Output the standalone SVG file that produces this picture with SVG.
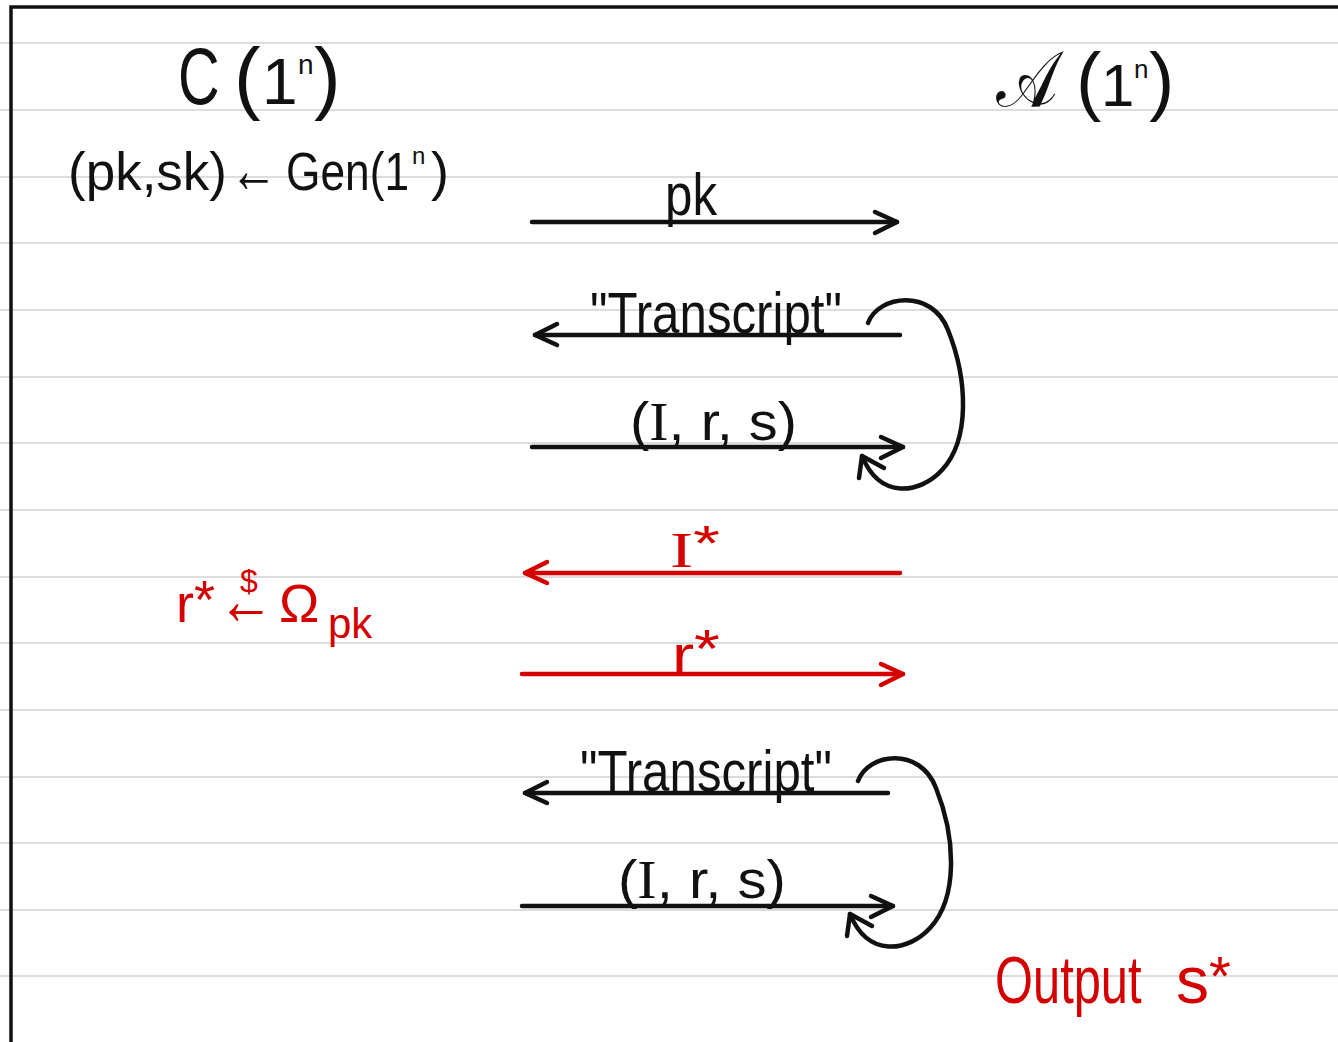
<svg xmlns="http://www.w3.org/2000/svg" width="1338" height="1042" viewBox="0 0 1338 1042">
<style>
.rule{stroke:#dcdcdc;stroke-width:2}
.hw{font-family:"Liberation Sans","DejaVu Sans",sans-serif;fill:#111}
.sf{font-family:"Liberation Serif","DejaVu Serif",serif}
.red{fill:#d40000}
.ln{fill:none;stroke:#111;stroke-width:4.5;stroke-linecap:round;stroke-linejoin:round}
.lr{fill:none;stroke:#d40000;stroke-width:4.5;stroke-linecap:round;stroke-linejoin:round}
</style>
<defs>
<marker id="ahB" viewBox="-26 -15 30 30" markerWidth="30" markerHeight="30" refX="0" refY="0" orient="auto" markerUnits="userSpaceOnUse">
<path d="M-22,-10 L0,0 L-22,11" fill="none" stroke="#111" stroke-width="4.5" stroke-linecap="round" stroke-linejoin="round"/>
</marker>
<marker id="ahR" viewBox="-26 -15 30 30" markerWidth="30" markerHeight="30" refX="0" refY="0" orient="auto" markerUnits="userSpaceOnUse">
<path d="M-22,-10 L0,0 L-22,11" fill="none" stroke="#d40000" stroke-width="4.5" stroke-linecap="round" stroke-linejoin="round"/>
</marker>
</defs>
<rect x="0" y="0" width="1338" height="1042" fill="#fff"/>
<g id="paper">
<line class="rule" x1="0" y1="43" x2="1338" y2="43"/>
<line class="rule" x1="0" y1="110" x2="1338" y2="110"/>
<line class="rule" x1="0" y1="177" x2="1338" y2="177"/>
<line class="rule" x1="0" y1="243" x2="1338" y2="243"/>
<line class="rule" x1="0" y1="310" x2="1338" y2="310"/>
<line class="rule" x1="0" y1="377" x2="1338" y2="377"/>
<line class="rule" x1="0" y1="443" x2="1338" y2="443"/>
<line class="rule" x1="0" y1="510" x2="1338" y2="510"/>
<line class="rule" x1="0" y1="577" x2="1338" y2="577"/>
<line class="rule" x1="0" y1="643" x2="1338" y2="643"/>
<line class="rule" x1="0" y1="710" x2="1338" y2="710"/>
<line class="rule" x1="0" y1="777" x2="1338" y2="777"/>
<line class="rule" x1="0" y1="843" x2="1338" y2="843"/>
<line class="rule" x1="0" y1="910" x2="1338" y2="910"/>
<line class="rule" x1="0" y1="976" x2="1338" y2="976"/>
<path d="M11,1042 V7 H1338" fill="none" stroke="#111" stroke-width="3.5"/>
</g>
<g id="challenger">
<text class="hw" transform="translate(178,104) scale(0.72,1)" font-size="80">C</text>
<text class="hw" x="234" y="104" font-size="80">(</text>
<text class="hw" x="262" y="104" font-size="64">1</text>
<text class="hw" x="298" y="74" font-size="28">n</text>
<text class="hw" x="314" y="104" font-size="80">)</text>
</g>
<g id="keygen">
<text class="hw" x="68" y="190" font-size="53">(pk,sk)</text>
<text class="hw" transform="translate(230,192) scale(0.72,1)" font-size="66">←</text>
<text class="hw" transform="translate(286,190) scale(0.82,1)" font-size="54">Gen(1</text>
<text class="hw" x="412" y="164" font-size="24">n</text>
<text class="hw" x="431" y="190" font-size="54">)</text>
</g>
<g id="adversary">
<text class="hw" x="996" y="106" font-size="78" textLength="62" lengthAdjust="spacingAndGlyphs">𝒜</text>
<text class="hw" x="1076" y="106" font-size="76">(</text>
<text class="hw" x="1101" y="106" font-size="60">1</text>
<text class="hw" x="1134" y="78" font-size="26">n</text>
<text class="hw" x="1149" y="106" font-size="76">)</text>
</g>
<g id="connectors">
<path class="ln" d="M532,222 H897" marker-end="url(#ahB)"/>
<path class="ln" d="M900,335 H535" marker-end="url(#ahB)"/>
<path class="ln" d="M532,447 H903" marker-end="url(#ahB)"/>
<path class="ln" d="M868,323 C878,295 932,288 948,330 C968,380 970,440 942,470 C920,494 880,500 862,456"/>
<path class="ln" d="M859,478 L862,456 L884,468"/>
<path class="lr" d="M900,573 H525" marker-end="url(#ahR)"/>
<path class="lr" d="M522,674 H903" marker-end="url(#ahR)"/>
<path class="ln" d="M888,793 H525" marker-end="url(#ahB)"/>
<path class="ln" d="M522,906 H893" marker-end="url(#ahB)"/>
<g transform="translate(-12,458)">
<path class="ln" d="M870,323 C880,295 932,288 948,330 C968,380 970,440 942,470 C920,494 880,500 862,456"/>
<path class="ln" d="M859,478 L862,456 L884,468"/>
</g>
</g>
<g id="label-pk">
<text class="hw" x="665" y="215" font-size="60" textLength="52" lengthAdjust="spacingAndGlyphs">pk</text>
</g>
<g id="label-transcript1">
<text class="hw" x="590" y="333" font-size="58" textLength="252" lengthAdjust="spacingAndGlyphs">"Transcript"</text>
</g>
<g id="label-irs1">
<text class="hw" x="630" y="440" font-size="54" textLength="167" lengthAdjust="spacingAndGlyphs">(<tspan class="sf">I</tspan>, r, s)</text>
</g>
<g id="label-istar">
<text class="hw red" x="670" y="567" font-size="50" textLength="50" lengthAdjust="spacingAndGlyphs"><tspan class="sf">I</tspan><tspan dy="-6">*</tspan></text>
</g>
<g id="label-rstar">
<text class="hw red" x="672" y="673" font-size="54" textLength="48" lengthAdjust="spacingAndGlyphs">r<tspan dy="-6">*</tspan></text>
</g>
<g id="sample">
<text class="hw red" x="176" y="622" font-size="54">r<tspan dy="-4">*</tspan></text>
<text class="hw red" transform="translate(218,624) scale(0.8,1)" font-size="70">←</text>
<text class="hw red" x="240" y="592" font-size="32">$</text>
<text class="hw red" x="279" y="622" font-size="54">Ω</text>
<text class="hw red" x="328" y="638" font-size="42">pk</text>
</g>
<g id="label-transcript2">
<text class="hw" x="580" y="791" font-size="58" textLength="252" lengthAdjust="spacingAndGlyphs">"Transcript"</text>
</g>
<g id="label-irs2">
<text class="hw" x="618" y="898" font-size="54" textLength="168" lengthAdjust="spacingAndGlyphs">(<tspan class="sf">I</tspan>, r, s)</text>
</g>
<g id="output">
<text class="hw red" transform="translate(995,1003) scale(0.74,1)" font-size="66">Output</text>
<text class="hw red" x="1176" y="1003" font-size="66">s<tspan dy="-8" font-size="56">*</tspan></text>
</g>
</svg>
